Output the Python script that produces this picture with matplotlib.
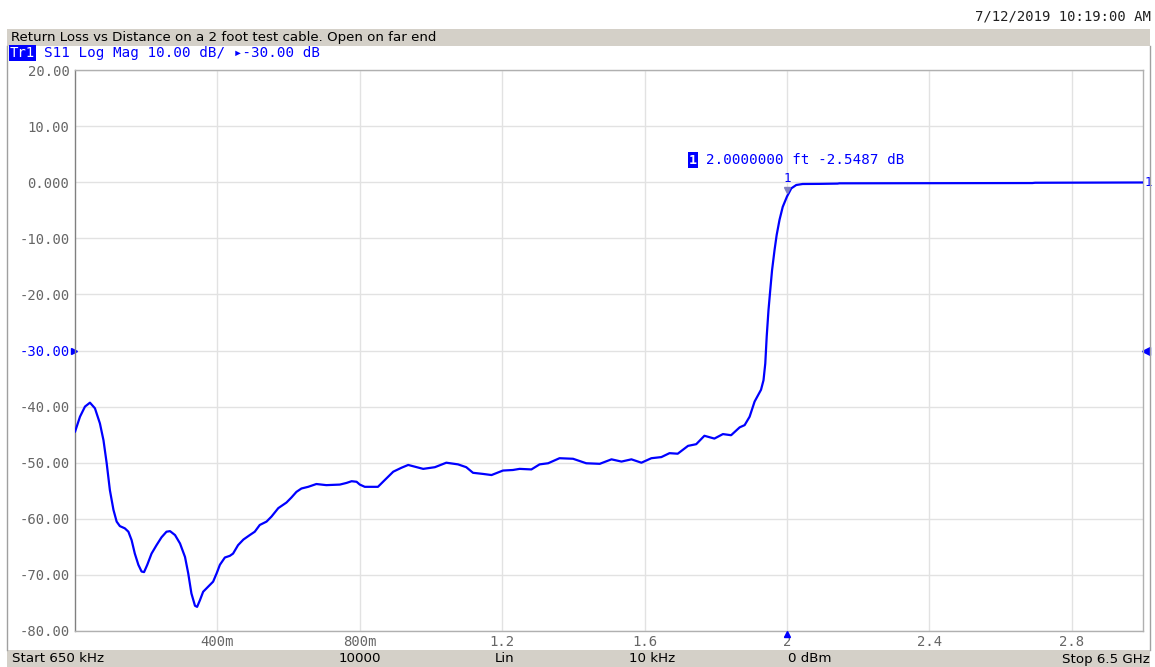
import matplotlib
matplotlib.use("Agg")
import matplotlib.pyplot as plt
import matplotlib.transforms as mtransforms
from matplotlib.patches import Rectangle
from matplotlib.lines import Line2D

# ---- data ----
distance_ft = [0.000, 0.014, 0.028, 0.042, 0.056, 0.070, 0.080, 0.089, 0.098, 0.108,
               0.117, 0.126, 0.140, 0.150, 0.159, 0.168, 0.178, 0.187, 0.194, 0.203,
               0.215, 0.229, 0.243, 0.257, 0.267, 0.281, 0.295, 0.309, 0.318, 0.327,
               0.337, 0.343, 0.351, 0.360, 0.374, 0.388, 0.398, 0.407, 0.421, 0.435,
               0.444, 0.458, 0.473, 0.491, 0.505, 0.519, 0.538, 0.552, 0.571, 0.594,
               0.608, 0.622, 0.636, 0.655, 0.678, 0.706, 0.744, 0.763, 0.777, 0.791,
               0.800, 0.814, 0.851, 0.870, 0.894, 0.917, 0.936, 0.954, 0.978, 1.011,
               1.043, 1.076, 1.099, 1.118, 1.146, 1.170, 1.202, 1.230, 1.249, 1.282,
               1.305, 1.329, 1.361, 1.399, 1.436, 1.474, 1.507, 1.535, 1.563, 1.591,
               1.619, 1.647, 1.670, 1.693, 1.722, 1.745, 1.768, 1.796, 1.820, 1.843,
               1.867, 1.881, 1.895, 1.909, 1.927, 1.934, 1.939, 1.943, 1.948, 1.953,
               1.958, 1.965, 1.971, 1.979, 1.988, 2.000, 2.012, 2.026, 2.044, 2.091,
               2.142, 2.147, 2.689, 2.697, 3.000]
s11_db = [-44.5, -41.8, -40.0, -39.3, -40.3, -43.0, -46.0, -50.1, -54.9, -58.4,
          -60.5, -61.3, -61.7, -62.3, -63.8, -66.2, -68.2, -69.4, -69.5, -68.2,
          -66.2, -64.7, -63.3, -62.3, -62.2, -62.9, -64.4, -66.8, -69.7, -73.3,
          -75.5, -75.7, -74.5, -73.0, -72.1, -71.2, -69.7, -68.2, -66.9, -66.6,
          -66.2, -64.7, -63.7, -62.9, -62.3, -61.1, -60.5, -59.6, -58.1, -57.1,
          -56.2, -55.2, -54.6, -54.3, -53.8, -54.0, -53.9, -53.6, -53.3, -53.4,
          -53.9, -54.3, -54.3, -53.1, -51.6, -50.9, -50.4, -50.7, -51.1, -50.8,
          -50.0, -50.3, -50.8, -51.8, -52.0, -52.2, -51.4, -51.3, -51.1, -51.2,
          -50.3, -50.1, -49.2, -49.3, -50.1, -50.2, -49.4, -49.8, -49.4, -50.0,
          -49.2, -49.0, -48.3, -48.4, -47.0, -46.7, -45.2, -45.7, -44.9, -45.1,
          -43.7, -43.3, -41.8, -39.1, -37.0, -35.3, -32.3, -27.5, -22.8, -19.2,
          -15.7, -12.1, -9.4, -6.7, -4.4, -2.55, -1.1, -0.5, -0.32, -0.3,
          -0.25, -0.2, -0.15, -0.1, -0.05]

y_ticks = [20, 10, 0, -10, -20, -30, -40, -50, -60, -70, -80]
y_labels = ["20.00", "10.00", "0.000", "-10.00", "-20.00", "-30.00",
            "-40.00", "-50.00", "-60.00", "-70.00", "-80.00"]
x_ticks = [0.4, 0.8, 1.2, 1.6, 2.0, 2.4, 2.8]
x_labels = ["400m", "800m", "1.2", "1.6", "2", "2.4", "2.8"]

title = "Return Loss vs Distance on a 2 foot test cable. Open on far end"
timestamp = "7/12/2019 10:19:00 AM"
trace_info = "S11 Log Mag 10.00 dB/ \u25b8-30.00 dB"
marker_x = 2.0
marker_y = -2.5487
marker_text = "2.0000000 ft -2.5487 dB"
footer = [("Start 650 kHz", 12, "left"), ("10000", 360, "center"), ("Lin", 505, "center"),
          ("10 kHz", 652, "center"), ("0 dBm", 810, "center"), ("Stop 6.5 GHz", 1150, "right")]

W, H = 1155, 667
BLUE = "#0000ff"
BAND = "#d4d0c8"
MONO = "DejaVu Sans Mono"

fig = plt.figure(figsize=(W / 100, H / 100), dpi=100)


def fx(x):
    return x / W


def fy(y):
    return 1 - y / H


# header / footer bands
fig.add_artist(Rectangle((fx(7), fy(46)), fx(1150) - fx(7), fy(29) - fy(46),
                         transform=fig.transFigure, facecolor=BAND, edgecolor="none"))
fig.add_artist(Rectangle((fx(7), fy(667)), fx(1150) - fx(7), fy(650) - fy(667),
                         transform=fig.transFigure, facecolor=BAND, edgecolor="none"))
for xx in (7, 1150):
    fig.add_artist(Line2D([fx(xx), fx(xx)], [fy(46), fy(650)], transform=fig.transFigure,
                          color="#a0a0a0", lw=1))

fig.text(fx(1151), fy(17), timestamp, ha="right", va="center", family=MONO,
         fontsize=10, color="#202020")
fig.text(fx(11), fy(38), title, ha="left", va="center", family="DejaVu Sans",
         fontsize=9.6, color="black")
fig.text(fx(10), fy(53), "Tr1", ha="left", va="center", family=MONO, fontsize=10,
         color="white", bbox=dict(boxstyle="square,pad=0.05", facecolor=BLUE, edgecolor="none"))
fig.text(fx(44), fy(53), trace_info, ha="left", va="center", family=MONO, fontsize=10.3,
         color=BLUE)

for txt, xx, ha in footer:
    fig.text(fx(xx), fy(659), txt, ha=ha, va="center", family="DejaVu Sans",
             fontsize=9.6, color="black")

# axes
ax = fig.add_axes([fx(75), fy(631), fx(1143) - fx(75), fy(70) - fy(631)])
ax.set_xlim(0, 3.0)
ax.set_ylim(-80, 20)
ax.set_yticks(y_ticks)
ax.set_yticklabels(y_labels, family=MONO, fontsize=10, color="#666666")
for lbl, v in zip(ax.get_yticklabels(), y_ticks):
    if v == -30:
        lbl.set_color(BLUE)
ax.set_xticks(x_ticks)
ax.set_xticklabels(x_labels, family=MONO, fontsize=10, color="#666666")
ax.tick_params(axis="both", length=0)
ax.tick_params(axis="y", pad=4)
ax.tick_params(axis="x", pad=3)
ax.grid(True, color="#e2e2e2", lw=1)
ax.set_axisbelow(True)
for name, sp in ax.spines.items():
    sp.set_color("#b0b0b0")
    sp.set_linewidth(1)
ax.spines["left"].set_color("#808080")

ax.plot(distance_ft, s11_db, color=BLUE, lw=1.6, solid_joinstyle="round",
        solid_capstyle="round", zorder=3)

# reference level markers
ytr = ax.get_yaxis_transform()
ax.plot([-0.001], [-30], marker=">", color=BLUE, markersize=5, transform=ytr, clip_on=False)
ax.plot([1.003], [-30], marker="<", color=BLUE, markersize=6, transform=ytr, clip_on=False)

# marker 1
ax.plot([marker_x], [marker_y], marker="v", color="#8080c0", markersize=4,
        transform=ax.transData + mtransforms.ScaledTranslation(0, 5 / 72, fig.dpi_scale_trans),
        clip_on=False, zorder=4)
ax.text(marker_x, 0.6, "1", ha="center", va="center", family=MONO, fontsize=9, color=BLUE,
        zorder=5)
ax.text(1.001, 0.0, "1", ha="left", va="center", family=MONO, fontsize=9, color=BLUE,
        transform=ytr, clip_on=False)
xtr = ax.get_xaxis_transform()
ax.plot([marker_x], [-0.006], marker="^", color=BLUE, markersize=5, transform=xtr,
        clip_on=False, zorder=6)

fig.text(fx(689), fy(160), "1", ha="left", va="center", family=MONO, fontsize=9.5,
         color="white", fontweight="bold",
         bbox=dict(boxstyle="square,pad=0.08", facecolor=BLUE, edgecolor="none"))
fig.text(fx(706), fy(160), marker_text, ha="left", va="center", family=MONO,
         fontsize=10.3, color=BLUE)

fig.savefig("out.png", dpi=100)
